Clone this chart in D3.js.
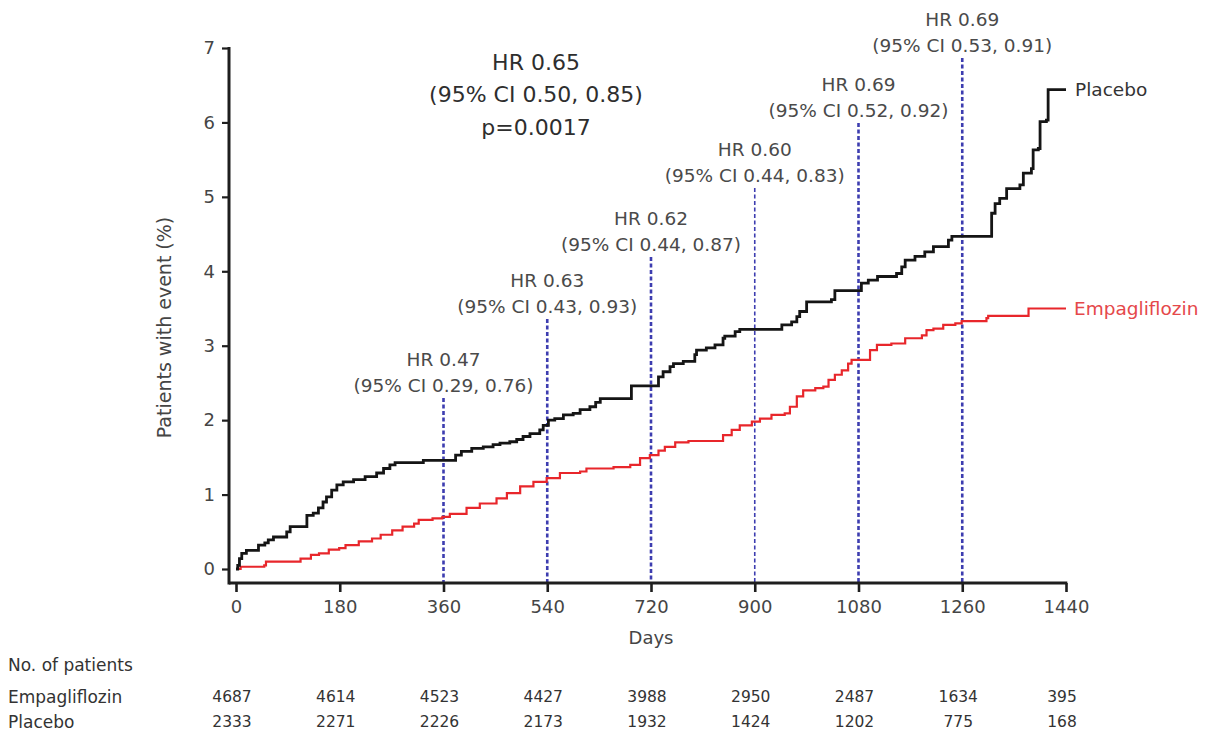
<!DOCTYPE html>
<html>
<head>
<meta charset="utf-8">
<script src="https://cdn.jsdelivr.net/npm/d3@7/dist/d3.min.js"></script>
<style>
  html, body { margin: 0; padding: 0; background: #fff; }
  svg { display: block; font-family: "DejaVu Sans", "Noto Sans", sans-serif; }
</style>
</head>
<body>
<svg id="chart" width="1209" height="733"></svg>
<script>
// ---- Cumulative incidence (%), Kaplan–Meier style steps: [day, percent] ----
const placeboSteps = [
  [0,0],[3,0.05],[6,0.14],[10,0.21],[18,0.25],[39,0.32],[50,0.35],[56,0.39],[65,0.43],
  [88,0.50],[94,0.57],[123,0.72],[134,0.75],[143,0.82],[151,0.90],[157,0.97],[166,1.06],
  [175,1.13],[186,1.17],[204,1.20],[224,1.24],[244,1.29],[256,1.35],[267,1.40],[276,1.43],
  [325,1.46],[381,1.53],[391,1.58],[409,1.62],[429,1.64],[446,1.67],[458,1.69],[475,1.71],
  [487,1.74],[498,1.78],[510,1.82],[527,1.87],[533,1.93],[542,2.00],[553,2.02],[568,2.07],
  [585,2.09],[597,2.14],[614,2.18],[624,2.24],[632,2.29],[686,2.46],[733,2.58],[741,2.65],
  [753,2.72],[759,2.76],[776,2.79],[796,2.88],[799,2.94],[816,2.97],[831,3.01],[845,3.10],
  [848,3.13],[866,3.19],[874,3.22],[947,3.28],[964,3.32],[973,3.39],[978,3.46],[990,3.59],
  [1033,3.62],[1039,3.74],[1085,3.84],[1097,3.88],[1113,3.93],[1146,3.97],[1155,4.06],
  [1161,4.15],[1178,4.20],[1195,4.26],[1210,4.33],[1236,4.42],[1242,4.47],[1311,4.78],
  [1317,4.91],[1325,4.98],[1337,5.11],[1360,5.16],[1366,5.32],[1380,5.38],[1383,5.63],
  [1392,5.65],[1395,6.01],[1406,6.03],[1409,6.44],[1440,6.44]
];
const empagliflozinSteps = [
  [0,0],[8,0.03],[49,0.05],[52,0.10],[112,0.14],[130,0.19],[144,0.21],[161,0.26],[179,0.28],
  [190,0.32],[213,0.37],[236,0.41],[251,0.46],[271,0.52],[289,0.57],[309,0.61],[317,0.66],
  [341,0.68],[358,0.70],[371,0.74],[400,0.82],[423,0.88],[452,0.95],[470,1.02],[493,1.11],
  [516,1.17],[539,1.22],[562,1.29],[597,1.31],[608,1.35],[655,1.37],[684,1.40],[701,1.49],
  [718,1.53],[733,1.59],[744,1.64],[762,1.70],[785,1.72],[845,1.80],[860,1.87],[874,1.93],
  [895,1.98],[909,2.02],[929,2.07],[952,2.09],[961,2.18],[973,2.32],[984,2.40],[1005,2.43],
  [1019,2.45],[1028,2.54],[1039,2.61],[1051,2.67],[1062,2.76],[1068,2.81],[1100,2.94],
  [1112,3.01],[1137,3.03],[1161,3.10],[1190,3.14],[1198,3.21],[1210,3.23],[1227,3.28],
  [1248,3.30],[1259,3.33],[1302,3.37],[1305,3.40],[1375,3.50],[1440,3.50]
];

// ---- Axis ticks ----
const dayTicks = [0,180,360,540,720,900,1080,1260,1440];
const pctTicks = [0,1,2,3,4,5,6,7];

// ---- Landmark hazard ratios ----
const hrDays = [360,540,720,900,1080,1260];
const hrValues = ["0.47","0.63","0.62","0.60","0.69","0.69"];
const ciLower = ["0.29","0.43","0.44","0.44","0.52","0.53"];
const ciUpper = ["0.76","0.93","0.87","0.83","0.92","0.91"];

// ---- Overall result ----
const overallText = ["HR 0.65", "(95% CI 0.50, 0.85)", "p=0.0017"];

// ---- Number at risk ----
const riskGroups = ["Empagliflozin", "Placebo"];
const riskEmpagliflozin = [4687,4614,4523,4427,3988,2950,2487,1634,395];
const riskPlacebo = [2333,2271,2226,2173,1932,1424,1202,775,168];

// ================= drawing =================
const svg = d3.select("#chart");
svg.append("rect").attr("width",1209).attr("height",733).attr("fill","#fff");

const x = d3.scaleLinear().domain([0,1440]).range([236,1066]);
const y = d3.scaleLinear().domain([0,7]).range([569,48]);
const axisY = 583;              // baseline of the day axis
const axisX = x(0) - 7;         // position of the percent axis

const axisColor = "#1e1e1e";
const textColor = "#454545";

// Landmark reference lines and their labels
const hrLabelY = [385, 306, 244, 175, 110, 45]; // centre of CI line for each landmark
const hrG = svg.append("g");
hrDays.forEach((d, i) => {
  hrG.append("line")
    .attr("x1", x(d)).attr("x2", x(d))
    .attr("y1", hrLabelY[i] + 13).attr("y2", axisY)
    .attr("stroke", "#3d3db0")
    .attr("stroke-width", d === 900 ? 1.6 : 2.6)
    .attr("stroke-dasharray", "4,2.5");
  hrG.append("text")
    .attr("x", x(d)).attr("y", hrLabelY[i] - 26)
    .attr("text-anchor","middle").attr("dominant-baseline","central")
    .attr("font-size", 18.5).attr("fill", "#4a4a4a")
    .text("HR " + hrValues[i]);
  hrG.append("text")
    .attr("x", x(d)).attr("y", hrLabelY[i])
    .attr("text-anchor","middle").attr("dominant-baseline","central")
    .attr("font-size", 18.5).attr("fill", "#4a4a4a")
    .text("(95% CI " + ciLower[i] + ", " + ciUpper[i] + ")");
});

// Step curves
const line = d3.line()
  .x(d => x(d[0])).y(d => y(d[1]))
  .curve(d3.curveStepAfter);

svg.append("path").datum(empagliflozinSteps)
  .attr("d", line).attr("fill","none")
  .attr("stroke","#e8262b").attr("stroke-width",2.2);
svg.append("path").datum(placeboSteps)
  .attr("d", line).attr("fill","none")
  .attr("stroke","#151515").attr("stroke-width",2.8);

// Curve labels at line ends
const pEnd = placeboSteps[placeboSteps.length-1];
const eEnd = empagliflozinSteps[empagliflozinSteps.length-1];
svg.append("text").attr("x", x(pEnd[0]) + 9).attr("y", y(pEnd[1]))
  .attr("dominant-baseline","central").attr("font-size",18.5).attr("fill","#333")
  .text("Placebo");
svg.append("text").attr("x", x(eEnd[0]) + 8).attr("y", y(eEnd[1]))
  .attr("dominant-baseline","central").attr("font-size",18.5).attr("fill","#e5484a")
  .text("Empagliflozin");

// Axes
const xAxis = d3.axisBottom(x).tickValues(dayTicks).tickFormat(d3.format("d"))
  .tickSize(9).tickSizeOuter(0).tickPadding(8);
const gx = svg.append("g").attr("transform", `translate(0,${axisY})`).call(xAxis);
gx.select(".domain").remove();
gx.selectAll(".tick line").attr("stroke", axisColor).attr("stroke-width", 2.6);
gx.selectAll(".tick text").attr("font-size", 18).attr("fill", textColor)
  .attr("font-family", "DejaVu Sans");
svg.append("line").attr("x1", axisX).attr("x2", x(1440) + 1.3)
  .attr("y1", axisY).attr("y2", axisY)
  .attr("stroke", axisColor).attr("stroke-width", 3);

const yAxis = d3.axisLeft(y).tickValues(pctTicks).tickFormat(d3.format("d"))
  .tickSize(7).tickSizeOuter(0).tickPadding(7);
const gy = svg.append("g").attr("transform", `translate(${axisX},0)`).call(yAxis);
gy.select(".domain").remove();
gy.selectAll(".tick line").attr("stroke", axisColor).attr("stroke-width", 2.2);
gy.selectAll(".tick text").attr("font-size", 18).attr("fill", textColor)
  .attr("font-family", "DejaVu Sans");
svg.append("line").attr("x1", axisX).attr("x2", axisX)
  .attr("y1", y(7) - 1).attr("y2", axisY + 1.5)
  .attr("stroke", axisColor).attr("stroke-width", 3);

// Axis titles
svg.append("text").attr("x", x(720)).attr("y", 637)
  .attr("text-anchor","middle").attr("dominant-baseline","central")
  .attr("font-size", 18).attr("fill", textColor).text("Days");
svg.append("text")
  .attr("transform", `translate(164,${(y(7) + axisY) / 2 + 12}) rotate(-90)`)
  .attr("text-anchor","middle").attr("dominant-baseline","central")
  .attr("font-size", 19).attr("fill", textColor).text("Patients with event (%)");

// Overall hazard ratio block
overallText.forEach((t, i) => {
  svg.append("text").attr("x", 536).attr("y", 62 + i * 32.5)
    .attr("text-anchor","middle").attr("dominant-baseline","central")
    .attr("font-size", 22).attr("fill", "#2e2e2e").text(t);
});

// Number at risk table
const table = svg.append("g").attr("fill", "#333");
table.append("text").attr("x", 8).attr("y", 665).attr("dominant-baseline","central")
  .attr("font-size", 17).text("No. of patients");
const riskRows = [riskEmpagliflozin, riskPlacebo];
const rowY = [697, 722];
riskGroups.forEach((g, r) => {
  table.append("text").attr("x", 8).attr("y", rowY[r]).attr("dominant-baseline","central")
    .attr("font-size", 17).text(g);
  riskRows[r].forEach((n, i) => {
    table.append("text").attr("x", x(dayTicks[i]) - 4).attr("y", rowY[r])
      .attr("text-anchor","middle").attr("dominant-baseline","central")
      .attr("font-size", 15.5).text(n);
  });
});
</script>
</body>
</html>
